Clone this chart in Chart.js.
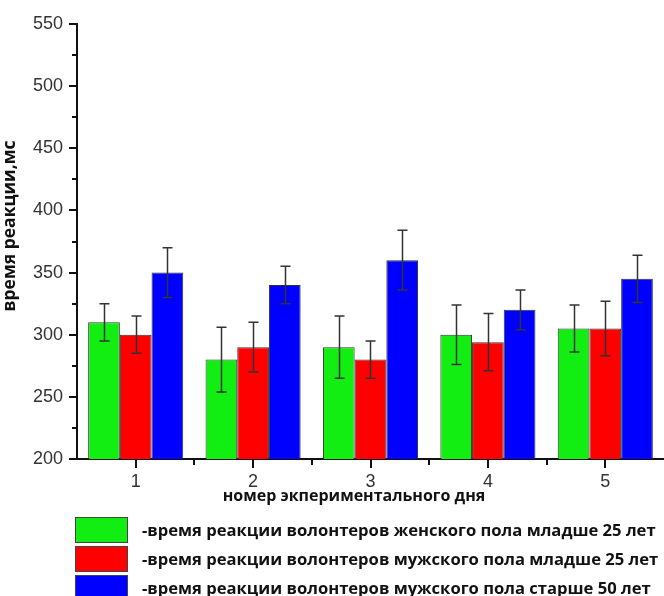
<!DOCTYPE html>
<html>
<head>
<meta charset="utf-8">
<script src="https://cdn.jsdelivr.net/npm/chart.js@4/dist/chart.umd.min.js"></script>
<style>
  html, body { margin: 0; padding: 0; background: #fff; }
  #wrap { width: 664px; height: 596px; }
</style>
</head>
<body>
<div id="wrap"><canvas id="c" width="664" height="596"></canvas></div>
<script>
// ---- data ----
const days = ['1', '2', '3', '4', '5'];
const seriesLabels = [
  '-время реакции волонтеров женского пола младше 25 лет',
  '-время реакции волонтеров мужского пола младше 25 лет',
  '-время реакции волонтеров мужского пола старше 50 лет'
];
const femaleUnder25 = [310, 280, 290, 300, 305];
const maleUnder25 = [300, 290, 280, 294, 305];
const maleOver50 = [350, 340, 360, 320, 345];
const femaleUnder25Err = [15, 26, 25, 24, 19];
const maleUnder25Err = [15, 20, 15, 23, 22];
const maleOver50Err = [20, 15, 24, 16, 19];
const yAxisTitle = 'время реакции,мс';
const xAxisTitle = 'номер экпериментального дня';
const yMin = 200, yMax = 550, yStep = 50, yMinorStep = 25;

const seriesValues = [femaleUnder25, maleUnder25, maleOver50];
const seriesErrors = [femaleUnder25Err, maleUnder25Err, maleOver50Err];
const seriesColors = ['#12ee12', '#ff0000', '#0000ff'];

const extras = {
  id: 'extras',
  afterDatasetsDraw(chart) {
    const ctx = chart.ctx;
    const ys = chart.scales.y;
    ctx.save();
    ctx.strokeStyle = '#333';
    ctx.lineWidth = 1.5;
    chart.data.datasets.forEach((ds, i) => {
      const meta = chart.getDatasetMeta(i);
      meta.data.forEach((bar, j) => {
        const v = ds.data[j];
        const e = seriesErrors[i][j];
        const yt = ys.getPixelForValue(v + e);
        const yb = ys.getPixelForValue(v - e);
        const x = Math.round(bar.x) + 0.5;
        ctx.beginPath();
        ctx.moveTo(x, yt); ctx.lineTo(x, yb);
        ctx.moveTo(x - 5, yt); ctx.lineTo(x + 5, yt);
        ctx.moveTo(x - 5, yb); ctx.lineTo(x + 5, yb);
        ctx.stroke();
      });
    });
    ctx.restore();
  },
  afterDraw(chart) {
    const ctx = chart.ctx;
    const ys = chart.scales.y, xs = chart.scales.x;
    const a = chart.chartArea;
    ctx.save();
    // minor ticks y
    ctx.strokeStyle = '#111';
    ctx.lineWidth = 2;
    for (let v = yMin + yMinorStep; v < yMax; v += yStep) {
      const y = Math.round(ys.getPixelForValue(v));
      ctx.beginPath(); ctx.moveTo(a.left - 5, y); ctx.lineTo(a.left, y); ctx.stroke();
    }
    // minor ticks x (between categories)
    for (let i = 1; i < days.length; i++) {
      const x = Math.round((xs.getPixelForValue(i - 1) + xs.getPixelForValue(i)) / 2);
      ctx.beginPath(); ctx.moveTo(x, a.bottom); ctx.lineTo(x, a.bottom + 6); ctx.stroke();
    }
    // axis titles
    ctx.fillStyle = '#111';
    ctx.font = 'bold 16px "Open Sans"';
    ctx.textAlign = 'center';
    ctx.textBaseline = 'middle';
    ctx.fillText(xAxisTitle, 354, 496);
    ctx.save();
    ctx.translate(10, 226);
    ctx.rotate(-Math.PI / 2);
    ctx.font = 'bold 17.5px "Open Sans"';
    ctx.fillText(yAxisTitle, 0, 0);
    ctx.restore();
    // legend
    ctx.textAlign = 'left';
    ctx.font = 'bold 16.6px "Open Sans"';
    seriesLabels.forEach((lab, i) => {
      const top = 517 + i * 29;
      ctx.fillStyle = seriesColors[i];
      ctx.fillRect(75, top, 53, 26);
      ctx.strokeStyle = '#444';
      ctx.lineWidth = 1;
      ctx.strokeRect(75.5, top + 0.5, 52, 25);
      ctx.fillStyle = '#111';
      ctx.fillText(lab, 142, top + 14);
    });
    ctx.restore();
  }
};

new Chart(document.getElementById('c'), {
  type: 'bar',
  data: {
    labels: days,
    datasets: seriesValues.map((vals, i) => ({
      label: seriesLabels[i],
      data: vals,
      backgroundColor: seriesColors[i],
      borderColor: '#333',
      borderWidth: 1,
      categoryPercentage: 0.81,
      barPercentage: 1.0
    }))
  },
  options: {
    responsive: false,
    animation: false,
    layout: { padding: { top: 24, right: 0, left: 0, bottom: 0 } },
    plugins: { legend: { display: false }, tooltip: { enabled: false } },
    scales: {
      x: {
        offset: true,
        grid: { display: true, drawOnChartArea: false, offset: false, tickLength: 9, color: '#111', lineWidth: 2 },
        border: { display: true, color: '#111', width: 2 },
        ticks: { color: '#333', padding: 3, font: { family: '"Liberation Sans", Arial', size: 18 } },
        afterFit(s) { s.height = 137; }
      },
      y: {
        min: yMin, max: yMax,
        grid: { display: true, drawOnChartArea: false, tickLength: 8, color: '#111', lineWidth: 2 },
        border: { display: true, color: '#111', width: 2 },
        ticks: { stepSize: yStep, color: '#333', padding: 6, font: { family: '"Liberation Sans", Arial', size: 18 } },
        afterFit(s) { s.width = 77; }
      }
    }
  },
  plugins: [extras]
});
</script>
</body>
</html>
